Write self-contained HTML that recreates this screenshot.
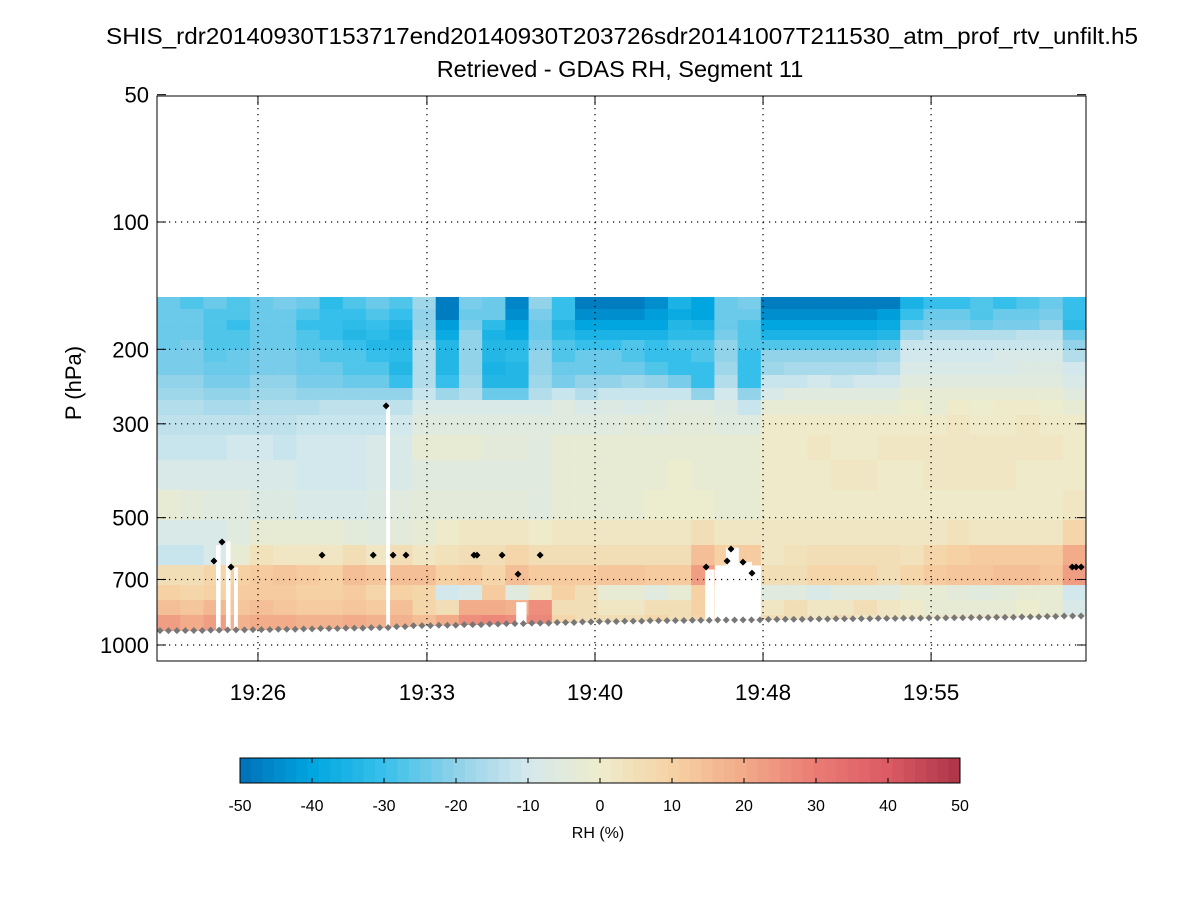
<!DOCTYPE html>
<html><head><meta charset="utf-8">
<style>
body{margin:0;background:#fff;}
svg{display:block;font-family:"Liberation Sans",sans-serif;}
</style></head>
<body>
<svg id="chart" width="1200" height="900" viewBox="0 0 1200 900">
<rect width="1200" height="900" fill="#fff"/>
<text x="622" y="44" font-size="23.5" text-anchor="middle" textLength="1032" lengthAdjust="spacingAndGlyphs">SHIS_rdr20140930T153717end20140930T203726sdr20141007T211530_atm_prof_rtv_unfilt.h5</text>
<text x="620" y="77" font-size="23.5" text-anchor="middle">Retrieved - GDAS RH, Segment 11</text>
<text transform="translate(81,383) rotate(-90)" font-size="22" text-anchor="middle">P (hPa)</text>
<g id="heat"></g>
<g id="gaps"></g>
<g id="grid"></g>
<g id="marks"></g>
<rect x="157" y="96" width="929" height="565" fill="none" stroke="#000" stroke-width="1"/>
<g id="axes"></g>
<g id="cbar"></g>
<text x="598" y="838" font-size="16" text-anchor="middle">RH (%)</text>
</svg>
<script>
// ---- data ----
const pTicks=[50,100,200,300,500,700,1000];
const tTicks=[26.0,33.33,40.62,47.91,55.2];
const tTickLabels=["19:26","19:33","19:40","19:48","19:55"];
const rowEdges=[150.4,160.6,170.5,180.0,190.1,200.7,214.3,230.0,246.9,263.5,285.9,318.8,365.3,430.2,506.4,580.2,647.1,721.6,782.9,849.2,932];
const tStart=21.62, tEnd=61.92;
const rh=[
[-25,-27,-25,-28,-25,-22,-25,-32,-28,-25,-28,-18,-48,-22,-25,-46,-20,-30,-48,-48,-48,-45,-35,-40,-25,-22,-48,-48,-48,-48,-48,-48,-35,-30,-30,-28,-30,-27,-25,-30],
[-25,-25,-27,-28,-25,-25,-28,-30,-30,-28,-30,-20,-48,-25,-25,-45,-22,-30,-45,-45,-45,-42,-38,-40,-25,-25,-45,-45,-45,-44,-44,-42,-30,-25,-25,-28,-25,-25,-22,-30],
[-25,-25,-28,-30,-25,-25,-30,-30,-32,-30,-33,-20,-42,-22,-32,-40,-25,-33,-40,-40,-40,-40,-33,-35,-25,-28,-40,-40,-40,-40,-40,-38,-25,-22,-22,-25,-22,-22,-20,-32],
[-25,-25,-28,-28,-25,-25,-28,-30,-33,-32,-35,-18,-38,-20,-35,-38,-25,-32,-35,-35,-35,-35,-32,-32,-22,-28,-35,-35,-35,-35,-35,-33,-18,-15,-15,-15,-15,-14,-14,-25],
[-25,-23,-28,-27,-25,-25,-28,-28,-30,-33,-33,-15,-33,-20,-33,-33,-22,-28,-30,-30,-28,-30,-28,-28,-20,-28,-28,-28,-28,-28,-27,-26,-12,-12,-12,-12,-12,-12,-12,-20],
[-23,-22,-26,-25,-22,-22,-25,-27,-28,-30,-32,-15,-33,-20,-33,-32,-20,-28,-25,-25,-28,-30,-30,-28,-20,-30,-20,-20,-20,-20,-20,-18,-10,-10,-10,-10,-9,-9,-9,-15],
[-23,-22,-25,-25,-22,-22,-25,-25,-28,-28,-33,-15,-33,-20,-35,-33,-20,-25,-25,-25,-25,-28,-30,-30,-18,-30,-18,-17,-17,-17,-17,-15,-8,-8,-8,-8,-8,-7,-7,-10],
[-20,-20,-22,-22,-20,-20,-22,-22,-25,-25,-30,-15,-30,-18,-33,-33,-18,-22,-20,-20,-18,-20,-22,-30,-15,-30,-12,-12,-10,-12,-10,-10,-6,-6,-5,-6,-5,-5,-5,-8],
[-18,-18,-20,-20,-18,-18,-20,-20,-20,-20,-20,-12,-18,-15,-25,-25,-15,-12,-15,-12,-12,-12,-12,-20,-10,-20,-8,-5,-5,-6,-5,-5,-3,-3,-3,-3,-2,-2,-3,-5],
[-15,-15,-17,-16,-15,-15,-15,-14,-14,-13,-13,-8,-8,-8,-8,-8,-8,-6,-8,-7,-8,-7,-6,-5,-7,-12,-2,-3,-2,-3,-3,-2,-1,-2,0,-1,0,0,-1,-2],
[-14,-14,-14,-13,-13,-13,-12,-12,-12,-11,-10,-5,-5,-5,-5,-6,-6,-5,-5,-5,-4,-5,-4,-4,-5,-6,0,0,0,1,0,0,1,1,2,1,1,2,1,0],
[-12,-12,-11,-10,-10,-11,-10,-10,-10,-9,-8,-3,-3,-3,-4,-4,-5,-3,-2,-3,-2,-2,-2,-2,-3,-3,1,1,2,1,1,2,2,2,2,2,2,2,2,1],
[-8,-8,-8,-9,-9,-9,-10,-10,-10,-9,-8,-5,-5,-5,-5,-6,-6,-3,-2,-2,-2,-2,-1,-2,-2,-2,1,1,1,2,2,1,1,2,2,2,2,1,1,1],
[-3,-4,-5,-6,-7,-7,-8,-8,-8,-7,-6,-4,-4,-4,-4,-4,-5,-3,-2,-2,-2,-1,-1,-1,-2,-2,1,1,1,1,1,1,1,1,1,1,1,1,1,2],
[-8,-9,-8,-5,-3,-2,-3,-3,-4,-5,-4,-2,0,2,3,2,0,2,3,2,3,3,2,5,3,3,2,2,3,3,2,2,3,3,4,3,3,3,3,8],
[-12,-12,-8,-2,4,3,3,3,5,3,5,3,4,6,5,8,6,6,6,6,6,5,5,15,10,12,3,4,5,5,6,5,4,8,10,12,12,12,12,20],
[5,5,8,10,12,14,12,10,15,14,15,15,10,12,8,15,12,12,12,14,14,12,12,22,null,null,5,6,8,8,8,6,8,12,14,14,15,15,14,22],
[10,8,10,12,12,12,10,10,12,8,10,8,-10,-8,12,-5,3,10,5,-2,-3,-5,-3,10,null,null,-5,-5,-8,-5,-5,-5,-3,-3,-4,-5,-4,-3,-3,-10],
[15,14,16,14,15,14,12,12,14,12,15,8,5,20,20,18,25,5,5,2,3,5,5,10,null,null,3,5,3,3,5,2,0,-2,-3,-2,-3,-1,-2,-8],
[22,20,22,18,20,20,18,18,20,18,18,15,20,25,28,25,28,8,5,5,5,8,5,8,null,null,5,5,3,5,3,3,2,2,2,2,2,2,2,0]
];
const surface=[925,924,922,921,920,918,916,914,912,910,905,900,898,895,892,890,888,885,882,880,878,876,875,874,873,872,870,869,868,867,866,865,864,863,862,861,860,858,856,854];
const gapT=[24.18,24.61,24.96,31.56,45.40,46.30,46.87,47.43,37.20];
const gapTop=[581,569,655,270,663,589,636,683,792];
const gapW=[0.2,0.2,0.17,0.17,0.4,0.56,0.56,0.26,0.45];
const dotT=[24.09,24.44,24.83,28.78,31.00,31.86,32.42,35.37,35.50,36.59,38.24,37.28,31.56,45.44,46.35,46.52,47.04,47.43,61.32,61.49,61.71];
const dotP=[633,571,654,613,613,613,613,613,613,613,613,680,272,654,633,593,637,676,654,654,654];
const cbTicks=[-50,-40,-30,-20,-10,0,10,20,30,40,50];

// ---- scales ----
const X0=157,X1=1086,Y0=96,Y1=661;
const xs=t=>X0+(t-tStart)/(tEnd-tStart)*(X1-X0);
const ys=p=>222+423*Math.log10(p/100);
const stops=[[0,112,184],[0,166,224],[56,192,234],[144,210,234],[212,232,236],[238,236,204],[246,210,164],[242,170,136],[234,124,116],[220,90,100],[172,52,72]];
function col(v){
  v=Math.max(-50,Math.min(50,v));
  let k=Math.min(63,Math.floor((v+50)/100*64));
  let f=(k+0.5)/64*10, i=Math.min(9,Math.floor(f)), r=f-i;
  const a=stops[i],b=stops[i+1];
  return 'rgb('+a.map((c,j)=>Math.round(c+(b[j]-c)*r)).join(',')+')';
}
const NS='http://www.w3.org/2000/svg';
function mk(tag,attrs,parent){const e=document.createElementNS(NS,tag);for(const k in attrs)e.setAttribute(k,attrs[k]);parent.appendChild(e);return e;}

// heatmap
const heat=document.getElementById('heat');
const nC=rh[0].length, dt=(tEnd-tStart)/nC;
for(let r=0;r<rh.length;r++){
  for(let c=0;c<nC;c++){
    const v=rh[r][c]; if(v===null) continue;
    const top=rowEdges[r]; let bot=Math.min(rowEdges[r+1],surface[c]);
    if(bot<=top) continue;
    const xa=xs(tStart+c*dt), xb=xs(tStart+(c+1)*dt);
    const e=mk('rect',{x:xa.toFixed(2),y:ys(top).toFixed(2),width:(xb-xa+0.4).toFixed(2),height:(ys(bot)-ys(top)+0.4).toFixed(2),fill:col(v)},heat);
    
    
  }
}
// gaps (missing data)
const gaps=document.getElementById('gaps');
for(let i=0;i<gapT.length;i++){
  const xa=xs(gapT[i]), w=gapW[i]*(X1-X0)/(tEnd-tStart);
  const e=mk('rect',{x:xa.toFixed(2),y:ys(gapTop[i]).toFixed(2),width:w.toFixed(2),height:(ys(950)-ys(gapTop[i])).toFixed(2),fill:'#fff'},gaps);
  
  
}
// grid
const grid=document.getElementById('grid');
pTicks.forEach(p=>{const y=ys(p); if(y<=Y0+1||y>=Y1-1) return;
  const e=mk('line',{x1:X0,x2:X1,y1:y,y2:y,stroke:'#000','stroke-width':1.2,'stroke-dasharray':'1.2,4.8'},grid);
  
  });
tTicks.forEach(t=>{const x=xs(t);
  const e=mk('line',{x1:x,x2:x,y1:Y0,y2:Y1,stroke:'#000','stroke-width':1.2,'stroke-dasharray':'1.2,4.8'},grid);
  
  });
// markers
const marks=document.getElementById('marks');
for(let x=X0+3;x<X1;x+=8.45){
  const t=tStart+(x-X0)/(X1-X0)*(tEnd-tStart);
  const c=Math.min(nC-1,Math.floor((t-tStart)/dt));
  const y=ys(surface[c]);
  const e=mk('path',{d:`M${x} ${y-3.5}L${x+3.5} ${y}L${x} ${y+3.5}L${x-3.5} ${y}Z`,fill:'#777'},marks);
  
  
}
for(let i=0;i<dotT.length;i++){
  const x=xs(dotT[i]),y=ys(dotP[i]);
  const e=mk('path',{d:`M${x} ${y-3.5}L${x+3.5} ${y}L${x} ${y+3.5}L${x-3.5} ${y}Z`,fill:'#000'},marks);
  
  
}
// axes
const axes=document.getElementById('axes');
pTicks.forEach(p=>{const y=ys(p);
  mk('line',{x1:X0,x2:X0+9,y1:y,y2:y,stroke:'#000'},axes);
  mk('line',{x1:X1-9,x2:X1,y1:y,y2:y,stroke:'#000'},axes);
  const t=mk('text',{x:X0-8,y:y+8,'font-size':22,'text-anchor':'end'},axes);
  t.textContent=p;
  
  });
tTicks.forEach((tt,i)=>{const x=xs(tt);
  mk('line',{x1:x,x2:x,y1:Y1-9,y2:Y1,stroke:'#000'},axes);
  mk('line',{x1:x,x2:x,y1:Y0,y2:Y0+9,stroke:'#000'},axes);
  const t=mk('text',{x:x,y:700,'font-size':22.5,'text-anchor':'middle'},axes);
  t.textContent=tTickLabels[i];
  
  });
// colorbar
const cb=document.getElementById('cbar');
const CX0=240,CX1=960,CY0=758,CY1=783;
for(let k=0;k<64;k++){
  const v=-50+(k+0.5)*100/64;
  const xa=CX0+k*(CX1-CX0)/64;
  const e=mk('rect',{x:xa.toFixed(2),y:CY0,width:((CX1-CX0)/64+0.4).toFixed(2),height:CY1-CY0,fill:col(v)},cb);
  
  
}
mk('rect',{x:CX0,y:CY0,width:CX1-CX0,height:CY1-CY0,fill:'none',stroke:'#000'},cb);
cbTicks.forEach(v=>{const x=CX0+(v+50)/100*(CX1-CX0);
  mk('line',{x1:x,x2:x,y1:CY0,y2:CY0+5,stroke:'#000'},cb);
  mk('line',{x1:x,x2:x,y1:CY1-5,y2:CY1,stroke:'#000'},cb);
  const t=mk('text',{x:x,y:811,'font-size':16,'text-anchor':'middle'},cb);
  t.textContent=v;
  
  });
</script>
</body></html>
